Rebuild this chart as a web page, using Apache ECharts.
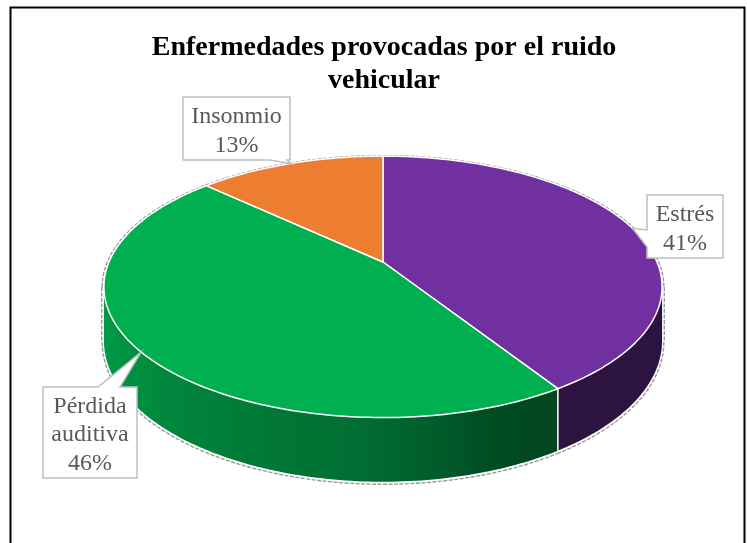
<!DOCTYPE html>
<html>
<head>
<meta charset="utf-8">
<script src="https://cdn.jsdelivr.net/npm/echarts@6/dist/echarts.min.js"></script>
<style>
html,body{margin:0;padding:0;background:#fff;}
#chart{width:747px;height:543px;}
</style>
</head>
<body>
<div id="chart"></div>
<script>
// ---- data ----
const categories = ['Estrés', 'Pérdida auditiva', 'Insonmio'];
const values = [41, 46, 13];
const topColors = ['#7030A0', '#00B050', '#ED7D31'];
const titleText = 'Enfermedades provocadas por el ruido\nvehicular';

// ---- layout / style (pseudo-3D projection) ----
const G = { cx: 383, cy: 262, a: 274, b: 126, d: 52, k: 0.19 };
const VIS0 = Math.acos(-G.k) * 180 / Math.PI;
const VIS1 = 360 - VIS0;
const SHADE = [[100,0.40],[150,0.40],[162,0.44],[175,0.56],[185,0.63],[200,0.68],[230,0.80],[260,0.90]];
const labelBoxes = [
  { x: 647, y: 195, w: 76, h: 63, side: 'left', p1: 230, p2: 247 },
  { x: 43, y: 387, w: 94, h: 91, side: 'top', p1: 98, p2: 120, tipAngle: 231 },
  { x: 183, y: 97, w: 107, h: 63, side: 'bottom', p1: 270, p2: 287 }
];

const total = values.reduce((s, v) => s + v, 0);
const starts = [];
values.reduce((acc, v, i) => { starts[i] = acc; return acc + v; }, 0);

function proj(th, r, d) {
  const t = th * Math.PI / 180;
  const u = r * Math.sin(t), v = r * Math.cos(t);
  const s = 1 / (1 + G.k * v);
  return [G.cx + G.a * u * s, G.cy - G.b * v * s + G.d * d * s];
}
function arc(a, b, r, d) {
  const pts = [];
  const n = Math.max(2, Math.ceil(Math.abs(b - a)));
  for (let j = 0; j <= n; j++) pts.push(proj(a + (b - a) * j / n, r, d));
  return pts;
}
function shadeF(th) {
  if (th <= SHADE[0][0]) return SHADE[0][1];
  for (let j = 1; j < SHADE.length; j++) {
    if (th <= SHADE[j][0]) {
      const [t0, f0] = SHADE[j - 1], [t1, f1] = SHADE[j];
      return f0 + (f1 - f0) * (th - t0) / (t1 - t0);
    }
  }
  return SHADE[SHADE.length - 1][1];
}
function shadeColor(hex, f) {
  const n = parseInt(hex.slice(1), 16);
  const r = Math.round(((n >> 16) & 255) * f), g = Math.round(((n >> 8) & 255) * f), b = Math.round((n & 255) * f);
  return 'rgb(' + r + ',' + g + ',' + b + ')';
}
function angles(i) {
  return [starts[i] / total * 360, (starts[i] + values[i]) / total * 360];
}

function renderSide(params, api) {
  const i = params.dataIndex;
  const [a0, a1] = angles(i);
  const children = [];
  const outline = { stroke: '#9a9a9a', fill: null, lineWidth: 1.4, lineDash: [4, 1.5] };
  const backRanges = [[a0, Math.min(a1, VIS0)], [Math.max(a0, VIS1), a1]];
  backRanges.forEach(([s, e]) => {
    if (e > s) children.push({ type: 'polyline', shape: { points: arc(s, e, 1.006, 0) }, style: outline });
  });
  const vs = Math.max(a0, VIS0), ve = Math.min(a1, VIS1);
  if (ve > vs) {
    children.push({ type: 'polyline', shape: { points: arc(vs, ve, 1.006, 1.02) }, style: outline });
    [VIS0, VIS1].forEach(t => {
      if (t >= a0 && t <= a1) {
        const ext = t === VIS0 ? 1 : -1;
        const p = proj(t, 1.006, 0), q = proj(t, 1.006, 1);
        children.push({ type: 'line', shape: { x1: p[0] + ext * 0.5, y1: p[1], x2: q[0] + ext * 0.5, y2: q[1] }, style: outline });
      }
    });
    const pts = arc(vs, ve, 1, 0).concat(arc(vs, ve, 1, 1).reverse());
    const xR = proj(vs, 1, 0)[0], xL = proj(ve, 1, 0)[0];
    const stops = [];
    const n = Math.max(4, Math.ceil((ve - vs) / 3));
    for (let j = 0; j <= n; j++) {
      const t = vs + (ve - vs) * j / n;
      const x = proj(t, 1, 0)[0];
      stops.push({ offset: Math.min(1, Math.max(0, (x - xL) / Math.max(1, xR - xL))), color: shadeColor(topColors[i], shadeF(t)) });
    }
    stops.sort((p, q) => p.offset - q.offset);
    children.push({
      type: 'polygon', shape: { points: pts },
      style: {
        fill: { type: 'linear', x: xL, y: 0, x2: xR, y2: 0, global: true, colorStops: stops },
        stroke: null
      }
    });
    if (a0 > VIS0 && a0 < VIS1) {
      const p = proj(a0, 1, 0), q = proj(a0, 1, 1);
      children.push({ type: 'line', shape: { x1: p[0], y1: p[1], x2: q[0], y2: q[1] }, style: { stroke: '#ffffff', lineWidth: 1.5 } });
    }
  }
  return { type: 'group', children };
}

function calloutPts(box, tip) {
  const L = box.x, R = box.x + box.w, T = box.y, B = box.y + box.h;
  if (box.side === 'bottom') return [[L, T], [R, T], [R, B], [box.p2, B], tip, [box.p1, B], [L, B]];
  if (box.side === 'left') return [[L, T], [R, T], [R, B], [L, B], [L, box.p2], tip, [L, box.p1]];
  return [[L, T], [box.p1, T], tip, [box.p2, T], [R, T], [R, B], [L, B]];
}

function renderTop(params, api) {
  const i = params.dataIndex;
  const [a0, a1] = angles(i);
  const children = [];
  const pts = [proj(0, 0, 0)].concat(arc(a0, a1, 1, 0));
  children.push({
    type: 'polygon', shape: { points: pts },
    style: { fill: topColors[i], stroke: '#ffffff', lineWidth: 1.5, lineJoin: 'round' }
  });
  const box = labelBoxes[i];
  const tipA = box.tipAngle != null ? box.tipAngle : (a0 + a1) / 2;
  const tip = proj(tipA, 1, 0);
  children.push({
    type: 'polygon', shape: { points: calloutPts(box, tip) },
    style: { fill: '#ffffff', stroke: '#bfbfbf', lineWidth: 1.5, lineJoin: 'miter' }
  });
  const pct = Math.round(api.value(0) / total * 100) + '%';
  children.push({
    type: 'text',
    style: {
      text: categories[i].split(' ').join('\n') + '\n' + pct,
      x: box.x + box.w / 2, y: box.y + box.h / 2 + 2.5,
      align: 'center', verticalAlign: 'middle',
      fontFamily: 'Liberation Serif', fontSize: 24, lineHeight: 28.5,
      fill: '#595959'
    }
  });
  return { type: 'group', children };
}

const data = values.map((v, i) => ({ name: categories[i], value: [v] }));

const chart = echarts.init(document.getElementById('chart'), null, { renderer: 'canvas' });
chart.setOption({
  animation: false,
  backgroundColor: '#ffffff',
  graphic: [{
    type: 'rect', shape: { x: 10.5, y: 7.5, width: 734, height: 600 },
    style: { fill: null, stroke: '#000000', lineWidth: 2 }, z: 100
  }, {
    type: 'text', x: 384, y: 31, z: 100,
    style: {
      text: titleText, align: 'center', verticalAlign: 'top',
      fontFamily: 'Liberation Serif', fontWeight: 'bold', fontSize: 28, lineHeight: 33, fill: '#000000'
    }
  }],
  series: [
    { type: 'custom', coordinateSystem: 'none', renderItem: renderSide, data: data, z: 1, silent: true },
    { type: 'custom', coordinateSystem: 'none', renderItem: renderTop, data: data, z: 2, silent: true }
  ]
});
</script>
</body>
</html>
